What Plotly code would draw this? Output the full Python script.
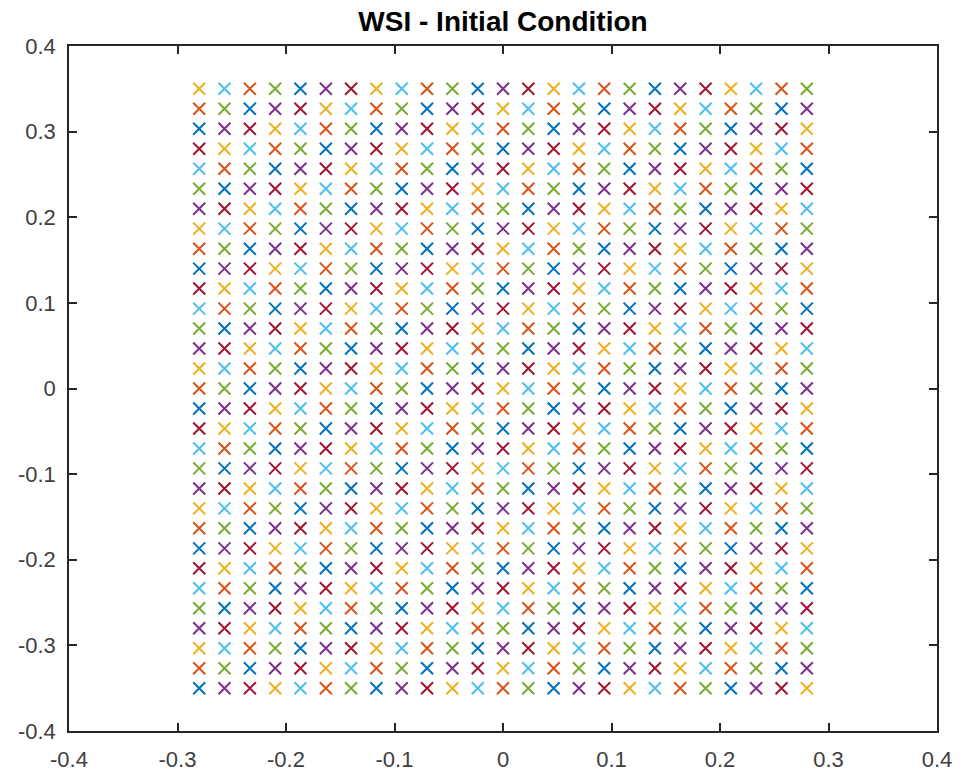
import plotly.graph_objects as go

# Grid node positions (25 columns x 31 rows)
x_positions = [-0.28, -0.2567, -0.2333, -0.21, -0.1867, -0.1633, -0.14, -0.1167,
               -0.0933, -0.07, -0.0467, -0.0233, 0.0, 0.0233, 0.0467, 0.07,
               0.0933, 0.1167, 0.14, 0.1633, 0.1867, 0.21, 0.2333, 0.2567, 0.28]
y_positions = [-0.35, -0.3267, -0.3033, -0.28, -0.2567, -0.2333, -0.21, -0.1867,
               -0.1633, -0.14, -0.1167, -0.0933, -0.07, -0.0467, -0.0233, 0.0,
               0.0233, 0.0467, 0.07, 0.0933, 0.1167, 0.14, 0.1633, 0.1867,
               0.21, 0.2333, 0.2567, 0.28, 0.3033, 0.3267, 0.35]

# MATLAB default colour order (cycled per plotted point)
color_order = ["#0072BD", "#D95319", "#EDB120", "#7E2F8E", "#77AC30", "#4DBEEE", "#A2142F"]

tick_values = [-0.4, -0.3, -0.2, -0.1, 0, 0.1, 0.2, 0.3, 0.4]
tick_labels = ["-0.4", "-0.3", "-0.2", "-0.1", "0", "0.1", "0.2", "0.3", "0.4"]

title_text = "WSI - Initial Condition"

# plotting order: column by column, each column bottom to top
px, py, pc = [], [], []
k = 0
for xv in x_positions:
    for yv in y_positions:
        px.append(xv)
        py.append(yv)
        pc.append(color_order[k % len(color_order)])
        k += 1

fig = go.Figure()
fig.add_trace(go.Scatter(
    x=px, y=py, mode="markers",
    marker=dict(symbol="x-thin-open", size=12, color=pc,
                line=dict(width=2, color=pc)),
    hoverinfo="skip", showlegend=False,
))

axis_common = dict(
    range=[-0.4, 0.4],
    tickvals=tick_values, ticktext=tick_labels,
    showgrid=False, zeroline=False,
    showline=True, linecolor="#262626", linewidth=1.5, mirror="ticks",
    ticks="inside", ticklen=8, tickwidth=1.5, tickcolor="#262626",
    tickfont=dict(family="Liberation Sans, Arial, sans-serif", size=22, color="#404040"),
    fixedrange=True, automargin=False,
)

fig.update_layout(
    width=962, height=778,
    margin=dict(l=69, r=25, t=46, b=47, autoexpand=False),
    paper_bgcolor="white", plot_bgcolor="white",
    title=dict(text="<b>" + title_text + "</b>", x=0.5, xanchor="center",
               xref="paper", y=1, yref="container", yanchor="top", pad=dict(t=11),
               font=dict(family="Liberation Sans, Arial, sans-serif", size=28, color="#000000")),
    xaxis=dict(**axis_common, ticklabelstandoff=8),
    yaxis=dict(**axis_common, ticklabelstandoff=7),
)

fig.write_html("out.html")
